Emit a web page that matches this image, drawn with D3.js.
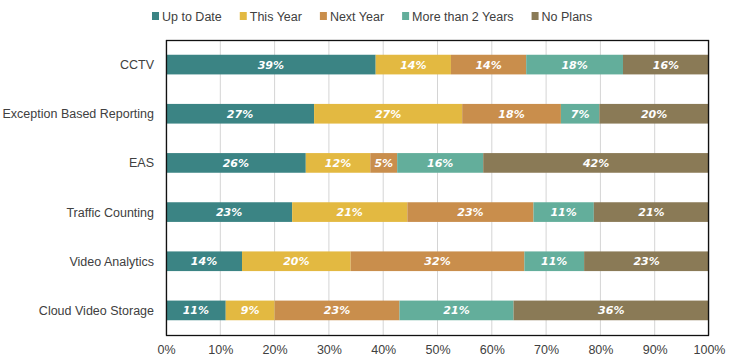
<!DOCTYPE html>
<html>
<head>
<meta charset="utf-8">
<script src="https://cdn.jsdelivr.net/npm/d3@7"></script>
<style>
  body { margin: 0; background: #fff; }
  svg { display: block; font-family: "Liberation Sans", Arial, sans-serif; }
</style>
</head>
<body>
<svg id="chart" width="733" height="364"></svg>
<script>
const categories = ["CCTV", "Exception Based Reporting", "EAS", "Traffic Counting", "Video Analytics", "Cloud Video Storage"];
const seriesNames = ["Up to Date", "This Year", "Next Year", "More than 2 Years", "No Plans"];
const upToDate   = [39, 27, 26, 23, 14, 11];
const thisYear   = [14, 27, 12, 21, 20, 9];
const nextYear   = [14, 18, 5, 23, 32, 23];
const moreThan2  = [18, 7, 16, 11, 11, 21];
const noPlans    = [16, 20, 42, 21, 23, 36];
const tickValues = [0, 0.1, 0.2, 0.3, 0.4, 0.5, 0.6, 0.7, 0.8, 0.9, 1.0];
const colors = ["#3b8484", "#e3b941", "#c98e4c", "#63ae9b", "#8a7a56"];

const seriesArrays = [upToDate, thisYear, nextYear, moreThan2, noPlans];
const rows = categories.map((c, i) => {
  const r = { category: c };
  seriesNames.forEach((s, j) => r[s] = seriesArrays[j][i]);
  return r;
});

const svg = d3.select("#chart");
const margin = { left: 166, right: 24, top: 40, bottom: 29 };
const W = 733, H = 364;

const x = d3.scaleLinear().domain([0, 1]).range([margin.left, W - margin.right]);
const y = d3.scaleBand().domain(categories).range([margin.top, H - margin.bottom]).paddingInner(0.6).paddingOuter(0.3);

// gridlines
svg.append("g").selectAll("line").data(tickValues).join("line")
  .attr("x1", d => x(d)).attr("x2", d => x(d))
  .attr("y1", margin.top).attr("y2", H - margin.bottom)
  .attr("stroke", "#d4d4d4").attr("stroke-width", 1);

const stack = d3.stack().keys(seriesNames).offset(d3.stackOffsetExpand);
const stacked = stack(rows);

const g = svg.append("g");
stacked.forEach((layer, li) => {
  g.append("g").attr("fill", colors[li]).selectAll("rect").data(layer).join("rect")
    .attr("x", d => x(d[0]))
    .attr("y", d => y(d.data.category))
    .attr("width", d => x(d[1]) - x(d[0]))
    .attr("height", y.bandwidth());
  g.append("g").selectAll("text").data(layer).join("text")
    .attr("x", d => (x(d[0]) + x(d[1])) / 2)
    .attr("y", d => y(d.data.category) + y.bandwidth() / 2)
    .attr("dy", "0.36em")
    .attr("text-anchor", "middle")
    .attr("fill", "#fff")
    .style("font-family", "'DejaVu Sans', sans-serif")
    .style("font-weight", "bold")
    .style("font-style", "italic")
    .style("font-size", "11px")
    .text(d => d.data[layer.key] + "%");
});

// frame
svg.append("rect")
  .attr("x", margin.left + 0.5).attr("y", margin.top + 0.5)
  .attr("width", x(1) - x(0) - 1).attr("height", H - margin.bottom - margin.top)
  .attr("fill", "none").attr("stroke", "#111").attr("stroke-width", 1.3);

// category labels
svg.append("g").selectAll("text").data(categories).join("text")
  .attr("x", 154)
  .attr("y", d => y(d) + y.bandwidth() / 2)
  .attr("dy", "0.36em")
  .attr("text-anchor", "end")
  .attr("fill", "#404040")
  .style("font-size", "12.5px")
  .text(d => d);

// x axis
const xAxis = d3.axisBottom(x).tickValues(tickValues).tickFormat(d3.format(".0%")).tickSize(0).tickPadding(10);
const ax = svg.append("g").attr("transform", `translate(0,${H - margin.bottom})`).call(xAxis);
ax.select(".domain").remove();
ax.selectAll("text").attr("fill", "#404040").style("font-size", "12.5px")
  .style("font-family", "'Liberation Sans', Arial, sans-serif");

// legend
const legend = svg.append("g").attr("transform", "translate(152,16)");
let lx = 0;
seriesNames.forEach((s, i) => {
  const item = legend.append("g").attr("transform", `translate(${lx},0)`);
  item.append("rect").attr("x", 0).attr("y", -4).attr("width", 7).attr("height", 8).attr("fill", colors[i]);
  const t = item.append("text").attr("x", 10).attr("y", 0).attr("dy", "0.36em")
    .attr("fill", "#404040").style("font-size", "12.5px").text(s);
  lx += 10 + t.node().getComputedTextLength() + 18;
});
</script>
</body>
</html>
